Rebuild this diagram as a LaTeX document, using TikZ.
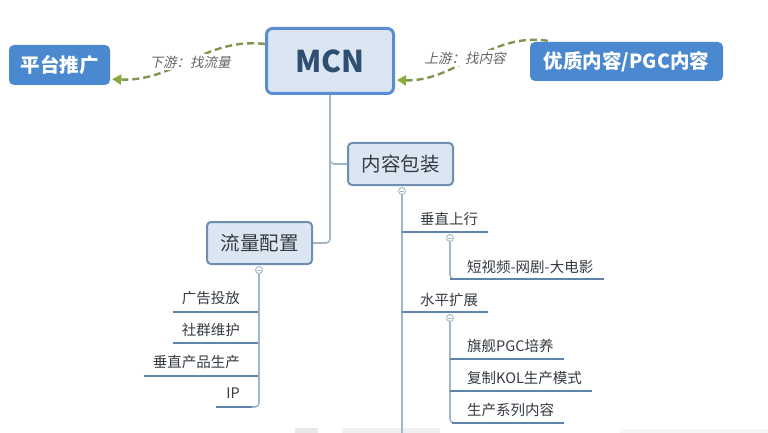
\documentclass[tikz,border=0pt]{standalone}
\usepackage{fontspec}
\setmainfont{Noto Sans CJK SC}
\newfontfamily\slfont{Noto Sans CJK SC}[FakeSlant=0.22]
\usetikzlibrary{arrows.meta,calc}
\definecolor{boxfill}{HTML}{DCE6F2}
\definecolor{boxline}{HTML}{6E8FB0}
\definecolor{mcnline}{HTML}{5B8ED0}
\definecolor{mcntext}{HTML}{2E4F72}
\definecolor{bluefill}{HTML}{4A88CF}
\definecolor{dashcol}{HTML}{7F9650}
\definecolor{tipcol}{HTML}{8AAA3A}
\definecolor{ulcol}{HTML}{5F86AA}
\definecolor{trunk}{HTML}{A3B6C8}
\definecolor{txt}{HTML}{353B42}
\tikzset{
  topbox/.style={draw=boxline, line width=2pt, fill=boxfill, rounded corners=4pt, text=txt, font=\fontsize{19.5}{20}\selectfont, inner sep=0pt, minimum height=42pt},
  bluebox/.style={fill=bluefill, rounded corners=5pt, text=white, font=\bfseries\fontsize{19.5}{20}\selectfont, inner sep=0pt},
  flow/.style={dashcol, line width=2.4pt, dash pattern=on 7pt off 4pt, -{Triangle[length=9pt,width=10pt,fill=tipcol,color=tipcol,sep=0pt]}},
  flowlabel/.style={font=\slfont\fontsize{13.5}{14}\selectfont, text=black!60, fill=white, inner sep=2pt},
  leaf/.style={font=\fontsize{14.5}{15}\selectfont, text=txt, inner sep=0pt},
  uline/.style={ulcol, line width=2.4pt},
  tline/.style={trunk, line width=1.6pt, rounded corners=4pt},
  knob/.style={circle, draw=trunk, fill=white, line width=0.9pt, minimum size=7pt, inner sep=0pt,
    path picture={\draw[trunk, line width=0.8pt] ([xshift=-2pt]path picture bounding box.center) -- ([xshift=2pt]path picture bounding box.center);}}
}
\begin{document}
\begin{tikzpicture}[x=1pt, y=-1pt]
\useasboundingbox (0,0) rectangle (768,433);
\fill[white] (0,0) rectangle (768,433);
% faint bottom artifacts
\fill[black!9] (295,428) rectangle (318,433);
\fill[black!6] (342,428) rectangle (440,433);
\fill[black!4] (620,429) rectangle (768,433);

% top row
\node[draw=mcnline, line width=3pt, fill=boxfill, rounded corners=6pt, minimum width=127pt, minimum height=65pt,
  text=mcntext, font=\bfseries\fontsize{30}{30}\selectfont] (mcn) at (330,61) {MCN};
\node[bluebox, minimum width=101pt, minimum height=40pt] (plat) at (59.5,65) {平台推广};
\node[bluebox, minimum width=193pt, minimum height=39pt] (pgc) at (626.5,61.5) {优质内容/PGC内容};

\coordinate (mcnL) at ($(mcn.north west)!0.25!(mcn.south west)$);
\coordinate (mcnR) at ($(mcn.north east)!0.78!(mcn.south east)$);
\coordinate (platR) at ($(plat.north east)!0.85!(plat.south east)+(2,0)$);
\coordinate (pgcT) at ($(pgc.north west)+(18,-1)$);
\draw[flow] (mcnL) .. controls (205,37) and (175,82) .. (platR);
\draw[flow] (pgcT) .. controls (490,32) and (455,82) .. ([xshift=2pt]mcnR);
\node[flowlabel] (lbl1) at (190,62) {下游：找流量};
\node[flowlabel] (lbl2) at (465,58) {上游：找内容};

% level 1
\node[topbox, minimum width=105pt] (pack) at (400.5,164) {内容包装};
\node[topbox, minimum width=105pt] (flux) at (259.5,243) {流量配置};
\draw[tline] (mcn.south) |- (flux.east);
\draw[tline] (330,150) |- (pack.west);

% knobs
\node[knob] (kp) at (402,191) {};
\node[knob] (kf) at (259,270) {};

% right branch
\node[leaf, anchor=west] (a1) at (420,219) {垂直上行};
\node[leaf, anchor=west] (a2) at (420,300) {水平扩展};
\node[leaf, anchor=west] (b1) at (467,267) {短视频-网剧-大电影};
\node[leaf, anchor=west] (c1) at (467,346) {旗舰PGC培养};
\node[leaf, anchor=west] (c2) at (467,378) {复制KOL生产模式};
\node[leaf, anchor=west] (c3) at (467,410) {生产系列内容};
\draw[tline] (kp.south) -- (402,433);
\draw[uline] (402,232) -- ([xshift=10pt]a1.east |- 0,232);
\draw[uline] (402,312) -- ([xshift=10pt]a2.east |- 0,312);
\node[knob] (ka1) at (450,238) {};
\node[knob] (ka2) at (450,318) {};
\draw[tline] (ka1.south) |- (459,279);
\draw[uline] (450,279) -- ([xshift=11pt]b1.east |- 0,279);
\draw[tline] (ka2.south) |- (459,423);
\draw[tline] (450,359) -- (454,359);
\draw[tline] (450,391) -- (454,391);
\draw[uline] (450,359) -- ([xshift=10pt]c1.east |- 0,359);
\draw[uline] (450,391) -- ([xshift=10pt]c2.east |- 0,391);
\draw[uline] (452,423) -- ([xshift=10pt]c3.east |- 0,423);

% left branch
\node[leaf, anchor=east] (d1) at (240,298) {广告投放};
\node[leaf, anchor=east] (d2) at (240,330) {社群维护};
\node[leaf, anchor=east] (d3) at (240,362) {垂直产品生产};
\node[leaf, anchor=east] (d4) at (240,393) {IP};
\draw[tline] (kf.south) |- (250,407);
\draw[uline] ([xshift=-9pt]d1.west |- 0,312) -- (258,312);
\draw[uline] ([xshift=-9pt]d2.west |- 0,343) -- (258,343);
\draw[uline] ([xshift=-9pt]d3.west |- 0,376) -- (258,376);
\draw[uline] ([xshift=-10pt]d4.west |- 0,407) -- (252,407);
\end{tikzpicture}
\end{document}
